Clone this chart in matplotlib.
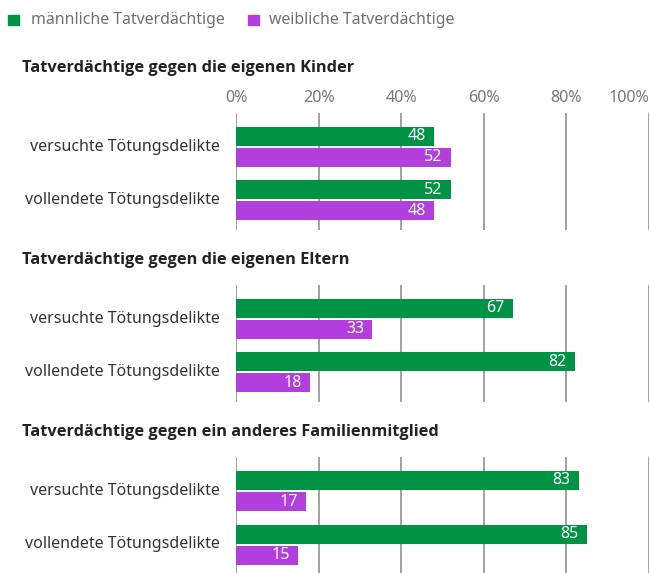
import matplotlib

matplotlib.use("Agg")
import matplotlib.pyplot as plt
from matplotlib.patches import Rectangle

plt.rcParams["font.family"] = ["Noto Sans", "DejaVu Sans"]

# data (percent of suspects)
PANEL_TITLES = [
    "Tatverdächtige gegen die eigenen Kinder",
    "Tatverdächtige gegen die eigenen Eltern",
    "Tatverdächtige gegen ein anderes Familienmitglied",
]
CATEGORIES = ["versuchte Tötungsdelikte", "vollendete Tötungsdelikte"]
MALE = [[48, 52], [67, 82], [83, 85]]
FEMALE = [[52, 48], [33, 18], [17, 15]]
TICKS = [0, 20, 40, 60, 80, 100]
TICK_LABELS = ["0%", "20%", "40%", "60%", "80%", "100%"]
LEGEND_LABELS = ["männliche Tatverdächtige", "weibliche Tatverdächtige"]

GREEN = "#009245"
PURPLE = "#b23fdd"
GRID = "#9a9a9a"

W, H = 650, 573
fig = plt.figure(figsize=(W / 100, H / 100), dpi=100)


def fx(px):
    return px / W


def fy(py):
    return 1 - py / H


# legend
for sq_x, txt_x, color, label in [
    (8, 31, GREEN, LEGEND_LABELS[0]),
    (248, 269, PURPLE, LEGEND_LABELS[1]),
]:
    fig.patches.append(
        Rectangle((fx(sq_x), fy(25)), fx(11), 10 / H, color=color,
                  transform=fig.transFigure, figure=fig)
    )
    fig.text(fx(txt_x), fy(20), label, fontsize=11.4, color="#707070",
             ha="left", va="center")

ax_left, ax_right = 236, 649
unit = 53.5  # px between group centres
bar_h = 19 / unit
off = 10.5 / unit
panel_step = 172

for p in range(3):
    top = 113 + p * panel_step
    bottom = top + 117 if p < 2 else H
    ax = fig.add_axes([fx(ax_left), fy(bottom), fx(ax_right - ax_left),
                       (bottom - top) / H])
    y_top = -34 / unit
    y_bot = 1 + (bottom - top - 34 - unit) / unit
    ax.set_ylim(y_bot, y_top)
    ax.set_xlim(0, 100)
    for s in ax.spines.values():
        s.set_visible(False)
    ax.set_xticks(TICKS)
    ax.set_yticks([])
    ax.tick_params(axis="x", length=0, labelbottom=False)
    ax.set_axisbelow(True)
    ax.grid(axis="x", color=GRID, linewidth=1.3)
    ax.patch.set_alpha(0)

    ys = list(range(len(CATEGORIES)))
    ax.barh([y - off for y in ys], MALE[p], height=bar_h, color=GREEN, zorder=2)
    ax.barh([y + off for y in ys], FEMALE[p], height=bar_h, color=PURPLE, zorder=2)
    for y, m, f in zip(ys, MALE[p], FEMALE[p]):
        ax.annotate(str(m), (m, y - off), xytext=(-6, 0), textcoords="offset points",
                    ha="right", va="center", color="white", fontsize=11.5, zorder=3)
        ax.annotate(str(f), (f, y + off), xytext=(-6, 0), textcoords="offset points",
                    ha="right", va="center", color="white", fontsize=11.5, zorder=3)
        ax.annotate(CATEGORIES[y], (0, y), xytext=(-16, 0), textcoords="offset pixels",
                    ha="right", va="center", color="#333333", fontsize=11.5,
                    annotation_clip=False)

    title_y = 68 if p == 0 else top - 25
    fig.text(fx(22), fy(title_y), PANEL_TITLES[p], fontsize=11.8,
             fontweight="bold", family=["Open Sans", "DejaVu Sans"],
             color="#222222", ha="left", va="center")

    if p == 0:
        for t, lab in zip(TICKS, TICK_LABELS):
            ha = "right" if t == 100 else "center"
            xp = ax_left + t * (ax_right - ax_left) / 100
            fig.text(fx(xp), fy(98), lab, fontsize=11.6, color="#777777",
                     ha=ha, va="center")

fig.savefig("out.png", dpi=100)
